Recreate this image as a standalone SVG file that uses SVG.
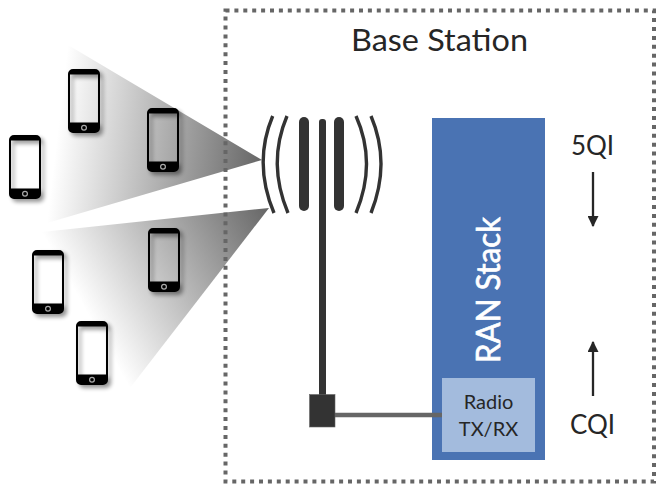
<svg xmlns="http://www.w3.org/2000/svg" xmlns:xlink="http://www.w3.org/1999/xlink" width="662" height="489" viewBox="0 0 662 489">
<style>
text{font-family:"Lato","Open Sans","Liberation Sans",sans-serif;fill:#262626}
.arc{fill:none;stroke:#333;stroke-width:3.4}
.bar{fill:#333}
</style>
<defs>
<linearGradient id="b1" gradientUnits="userSpaceOnUse" x1="262" y1="160" x2="57" y2="136"><stop offset="0" stop-color="#666"/><stop offset="1" stop-color="#fff"/></linearGradient>
<linearGradient id="b2" gradientUnits="userSpaceOnUse" x1="269" y1="208" x2="86" y2="311"><stop offset="0" stop-color="#666"/><stop offset="1" stop-color="#fff"/></linearGradient>
<filter id="sh" x="-30%" y="-20%" width="170%" height="150%"><feGaussianBlur stdDeviation="2.2"/></filter>
<marker id="ah" viewBox="0 0 10 10" refX="9" refY="5" markerWidth="11" markerHeight="11" orient="auto" markerUnits="userSpaceOnUse"><path d="M0 0L10 5L0 10Z" fill="#262626"/></marker>
<path id="phone" fill-rule="evenodd" d="M5 0H27A5 5 0 0 1 32 5V59A5 5 0 0 1 27 64H5A5 5 0 0 1 0 59V5A5 5 0 0 1 5 0ZM2 5.500V53.500H30V5.500Z"/>
<g id="ph">
<use xlink:href="#phone" x="3" y="3" fill="#000" opacity=".42" filter="url(#sh)"/>
<use xlink:href="#phone" fill="#000"/>
<circle cx="16" cy="58.800" r="2.400" fill="none" stroke="#aaa" stroke-width="1.200"/>
</g>
</defs>
<g id="beams">
<polygon points="262,160 68,45 47,223" fill="url(#b1)"/>
<polygon points="269,208 42,232 130,388" fill="url(#b2)"/>
</g>
<g id="base-station">
<rect x="225.500" y="10.500" width="428.500" height="471" fill="none" stroke="#666" stroke-width="4" stroke-dasharray="4 4.900"/>
<text x="439.500" y="51" font-size="30.500" text-anchor="middle" textLength="177" lengthAdjust="spacingAndGlyphs">Base Station</text>
</g>
<g id="phones">
<g id="phone1"><use xlink:href="#ph" x="68" y="69"/></g>
<g id="phone2"><use xlink:href="#ph" x="147" y="108"/></g>
<g id="phone3"><use xlink:href="#ph" x="9" y="135"/></g>
<g id="phone4"><use xlink:href="#ph" x="148" y="228"/></g>
<g id="phone5"><use xlink:href="#ph" x="32" y="250"/></g>
<g id="phone6"><use xlink:href="#ph" x="76" y="321"/></g>
</g>
<g id="ran-stack">
<rect x="432" y="118" width="113" height="342" fill="#4A73B3"/>
<text transform="translate(500 290) rotate(-90)" font-size="33" text-anchor="middle" textLength="146" lengthAdjust="spacingAndGlyphs" style="fill:#fff;stroke:#fff;stroke-width:.7">RAN Stack</text>
</g>
<g id="connectors">
<line x1="335" y1="415" x2="442" y2="415" stroke="#666" stroke-width="4.500"/>
<line x1="593" y1="172" x2="593" y2="226" stroke="#262626" stroke-width="2.300" marker-end="url(#ah)"/>
<line x1="593" y1="396" x2="593" y2="342" stroke="#262626" stroke-width="2.300" marker-end="url(#ah)"/>
</g>
<g id="radio">
<rect x="442" y="378" width="93" height="74" fill="#A3BBDD"/>
<text x="488.500" y="409" font-size="20" text-anchor="middle">Radio</text>
<text x="488.500" y="436" font-size="20" text-anchor="middle">TX/RX</text>
</g>
<g id="antenna">
<path class="arc" d="M272.700 116Q253 163 274 213"/>
<path class="arc" d="M287 116Q267 163 288 213"/>
<path class="arc" d="M356 116Q377 163 356 213"/>
<path class="arc" d="M371 116Q391 163 371 213"/>
<rect class="bar" x="299" y="117" width="10" height="94" rx="5"/>
<rect class="bar" x="334" y="117" width="10" height="94" rx="5"/>
<rect class="bar" x="319" y="119" width="7" height="280" rx="3"/>
<rect class="bar" x="309.500" y="394.500" width="25.500" height="32.500" stroke="#666" stroke-width=".6"/>
</g>
<g id="labels">
<text x="592.500" y="155" font-size="26" text-anchor="middle">5QI</text>
<text x="592.500" y="434" font-size="26" text-anchor="middle">CQI</text>
</g>
</svg>
